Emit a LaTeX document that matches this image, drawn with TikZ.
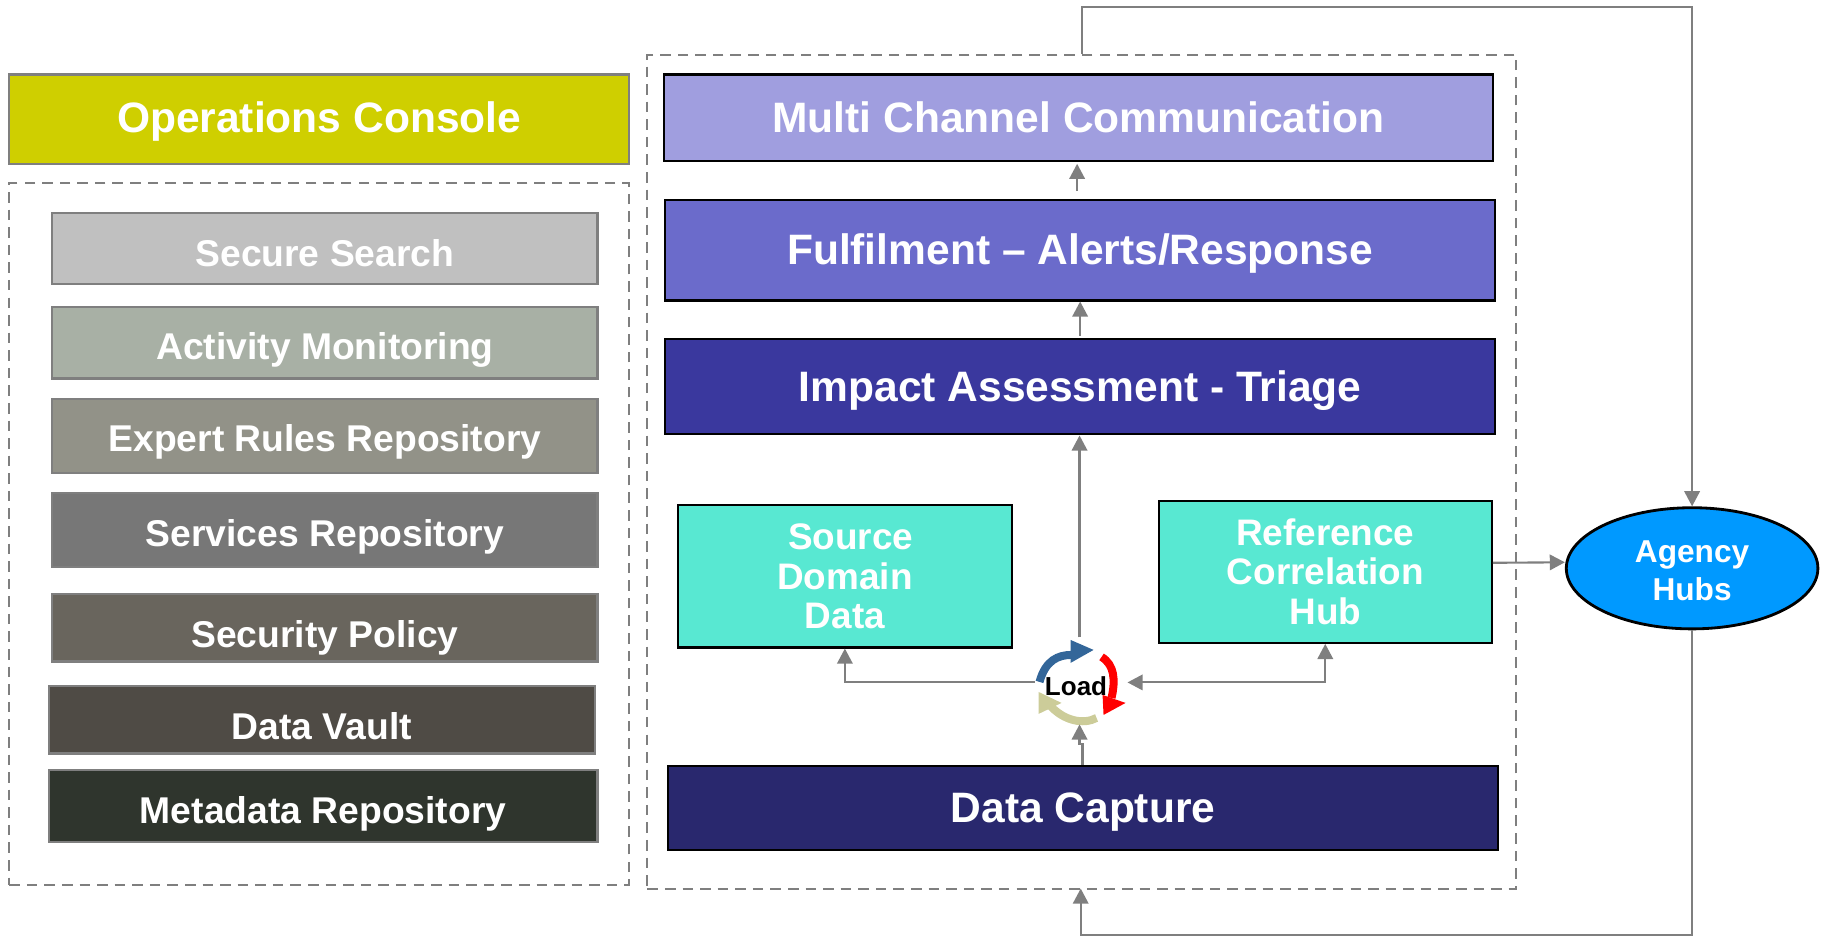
\documentclass[tikz,border=0pt]{standalone}
\usepackage{fontspec}
\setmainfont{Liberation Sans}
\usetikzlibrary{arrows.meta,shapes.geometric}
\definecolor{opsc}{HTML}{CFCF00}
\definecolor{lanec}{HTML}{58E8D2}
\definecolor{linec}{HTML}{7F7F7F}
\definecolor{cycleblue}{HTML}{336699}
\definecolor{cyclesand}{HTML}{CCCC99}
\tikzset{
  boxsize/.style 2 args={minimum width=#1*0.11645mm, minimum height=#2*0.11645mm},
  drop/.style={text height=#1, text depth=0pt},
  layer/.style={draw=black, line width=0.6pt, inner sep=0pt, text=white, font=\fontsize{12.1}{14}\selectfont\bfseries, align=center},
  stack/.style={draw=linec, line width=0.6pt, inner sep=0pt, text=white, font=\fontsize{10.6}{12}\selectfont\bfseries, align=center},
  lane/.style={layer, fill=lanec, font=\fontsize{10.5}{11.3}\selectfont\bfseries},
  group/.style={draw=linec, line width=0.6pt, dash pattern=on 3pt off 2pt, inner sep=0pt},
  flow/.style={draw=linec, line width=0.6pt, -{Triangle[length=4.3pt,width=4.4pt]}},
  cycleband/.style={line width=0.08cm},
}
\begin{document}
\begin{tikzpicture}[x=0.011645cm, y=-0.011645cm]
  \path[use as bounding box] (0, 0) rectangle (1568, 804);

  % console side
  \node[stack, fill=opsc, boxsize={532}{77}, drop=7.6pt, font=\fontsize{12.1}{14}\selectfont\bfseries] (ops) at (274, 102.5) {Operations Console};
  \node[group, boxsize={532}{603}] (tools) at (274, 458.5) {};
  \node[stack, fill={rgb,255:red,192;green,192;blue,192}, boxsize={468}{61}, drop=10.3pt] (search) at (279, 213.5) {Secure Search};
  \node[stack, fill={rgb,255:red,168;green,176;blue,165}, boxsize={468}{61}, drop=9.4pt] (activity) at (279, 294.5) {Activity Monitoring};
  \node[stack, fill={rgb,255:red,146;green,146;blue,136}, boxsize={468}{63}, drop=8.8pt] (rules) at (279, 374.5) {Expert Rules Repository};
  \node[stack, fill={rgb,255:red,119;green,119;blue,119}, boxsize={468}{64}, drop=9.4pt] (services) at (279, 455) {Services Repository};
  \node[stack, fill={rgb,255:red,105;green,101;blue,93}, boxsize={468}{58}, drop=11.4pt] (policy) at (279, 539) {Security Policy};
  \node[stack, fill={rgb,255:red,79;green,75;blue,69}, boxsize={469}{58}, drop=11.2pt] (vault) at (276.5, 618) {Data Vault};
  \node[stack, fill={rgb,255:red,47;green,53;blue,45}, boxsize={471}{62}, drop=10.1pt] (meta) at (277.5, 692) {Metadata Repository};

  % processing side
  \node[group, boxsize={746}{716}] (domain) at (929, 405) {};
  \node[layer, fill={rgb,255:red,160;green,158;blue,223}, boxsize={712}{74}, drop=8.2pt] (multi) at (926, 101) {Multi Channel Communication};
  \node[layer, fill={rgb,255:red,107;green,107;blue,203}, boxsize={713}{86}, drop=8.3pt] (fulfil) at (927.5, 215) {Fulfilment -- Alerts/Response};
  \node[layer, fill={rgb,255:red,58;green,56;blue,158}, boxsize={713}{82}, drop=8.3pt] (impact) at (927.5, 332) {Impact Assessment - Triage};
  \node[lane, boxsize={287}{122}] (source) at (725.5, 495) {\hspace*{3.3pt}Source\\Domain\\Data};
  \node[lane, boxsize={286}{122}] (hub) at (1138, 491) {Reference\\Correlation\\Hub};
  \node[layer, fill={rgb,255:red,41;green,40;blue,110}, boxsize={712}{72}, drop=8.3pt] (capture) at (930, 694) {Data Capture};
  \node[ellipse, draw=black, line width=0.8pt, fill={rgb,255:red,0;green,153;blue,255}, boxsize={216}{104}, inner sep=0pt, text=white, font=\fontsize{9}{10.9}\selectfont\bfseries, align=center] (agency) at (1453, 488) {\rule{0pt}{7.6pt}Agency\\Hubs};
  \node[circle, boxsize={76}{76}, inner sep=0pt, drop=7.4pt, font=\fontsize{7.4}{9}\selectfont\bfseries] (load) at (927, 586) {Load\hspace*{2pt}};

  % load cycle
  \begin{scope}[shift={(load.center)}, xshift=-0.01cm, yshift=-0.025cm, x=1cm, y=1cm]
    \draw[cycleband, cycleblue] (-0.39, 0.03) .. controls (-0.33, 0.25) and (-0.2, 0.3) .. (-0.07, 0.3);
    \fill[cycleblue] (-0.08, 0.45) -- (0.15, 0.35) -- (-0.08, 0.22) -- cycle;
    \draw[cycleband, red] (0.23, 0.28) .. controls (0.36, 0.2) and (0.37, 0.05) .. (0.33, -0.13);
    \fill[red] (0.47, -0.18) -- (0.25, -0.3) -- (0.24, -0.1) -- cycle;
    \draw[cycleband, cyclesand] (0.18, -0.33) .. controls (0.05, -0.4) and (-0.15, -0.36) .. (-0.29, -0.2);
    \fill[cyclesand] (-0.4, -0.07) -- (-0.17, -0.18) -- (-0.4, -0.29) -- cycle;
  \end{scope}

  % arrows
  \draw[flow, shorten <=0.08cm] ([xshift=-0.03cm]fulfil.north) -- ([xshift=-0.03cm, yshift=-0.02cm]fulfil.north |- multi.south);
  \draw[flow] ([yshift=0.02cm]impact.north) -- (fulfil.south -| impact.north);
  \draw[flow] (load.north) -- (load.north |- impact.south);
  \draw[flow] (load.west) -| (source.south);
  \draw[flow, <->, >={Triangle[length=4.3pt,width=4.4pt]}] ([xshift=0.03cm]load.east) -| (hub.south);
  \draw[flow, shorten >=-0.03cm] ([xshift=0.03cm]capture.north -| load.south) -- ++(0, -18) -| (load.south);
  \draw[flow] ([yshift=0.09cm]hub.east) -- ([yshift=0.06cm]agency.west);
  \draw[flow] (domain.north) -- ++(0, -40) -| (agency.north);
  \draw[flow] (agency.south) |- (928, 803) -- (928, 763);
\end{tikzpicture}
\end{document}
